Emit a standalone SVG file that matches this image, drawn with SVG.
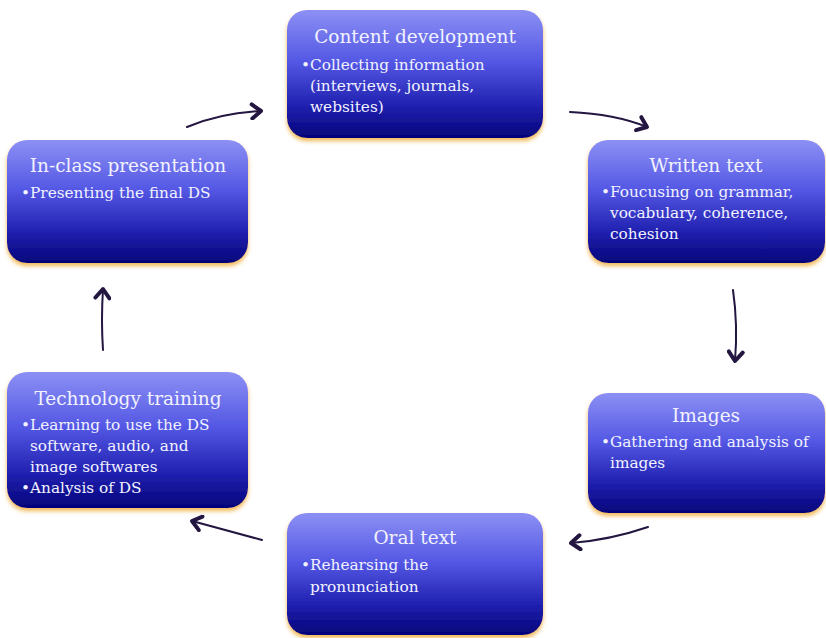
<svg xmlns="http://www.w3.org/2000/svg" width="826" height="638" viewBox="0 0 826 638">
<defs>
<linearGradient id="g" x1="0" y1="0" x2="0" y2="1">
<stop offset="0" stop-color="#8c90f4"/>
<stop offset="0.4" stop-color="#5458e4"/>
<stop offset="0.75" stop-color="#2020b0"/>
<stop offset="1" stop-color="#04047a"/>
</linearGradient>
<filter id="sh" x="-10%" y="-10%" width="120%" height="125%">
<feDropShadow dx="0" dy="3" stdDeviation="2" flood-color="#f0b040" flood-opacity="0.9"/>
</filter>
<marker id="ah" markerWidth="18" markerHeight="18" refX="12" refY="9" orient="auto" markerUnits="userSpaceOnUse">
<polyline points="3,2 12,9 3,16" fill="none" stroke="#231640" stroke-width="4" stroke-linecap="round" stroke-linejoin="round"/>
</marker>
</defs>
<style>
.box{fill:url(#g);filter:url(#sh);}
.t{font-family:"DejaVu Serif","Liberation Serif",serif;fill:#f2f2ff;font-size:18.5px;text-anchor:middle;}
.b{font-family:"DejaVu Serif","Liberation Serif",serif;fill:#f2f2ff;font-size:15.3px;}
.c{fill:none;stroke:#231640;stroke-width:2;marker-end:url(#ah);stroke-linecap:round;}
</style>
<rect width="826" height="638" fill="#ffffff"/>
<g id="content">
<rect class="box" x="287" y="10" width="256" height="128" rx="20"/>
<text class="t" x="415" y="43">Content development</text>
<text class="b" x="301" y="70">•Collecting information</text>
<text class="b" x="310" y="91">(interviews, journals,</text>
<text class="b" x="310" y="112">websites)</text>
</g>
<g id="written">
<rect class="box" x="588" y="140" width="237" height="123" rx="20"/>
<text class="t" x="706" y="172">Written text</text>
<text class="b" x="601" y="197">•Foucusing on grammar,</text>
<text class="b" x="610" y="218">vocabulary, coherence,</text>
<text class="b" x="610" y="239">cohesion</text>
</g>
<g id="images">
<rect class="box" x="588" y="393" width="237" height="120" rx="20"/>
<text class="t" x="706" y="422">Images</text>
<text class="b" x="601" y="447">•Gathering and analysis of</text>
<text class="b" x="610" y="468">images</text>
</g>
<g id="oral">
<rect class="box" x="287" y="513" width="256" height="122" rx="20"/>
<text class="t" x="415" y="544">Oral text</text>
<text class="b" x="301" y="570">•Rehearsing the</text>
<text class="b" x="310" y="592">pronunciation</text>
</g>
<g id="technology">
<rect class="box" x="7" y="372" width="241" height="136" rx="20"/>
<text class="t" x="128" y="405">Technology training</text>
<text class="b" x="21" y="430">•Learning to use the DS</text>
<text class="b" x="30" y="451">software, audio, and</text>
<text class="b" x="30" y="472">image softwares</text>
<text class="b" x="21" y="493">•Analysis of DS</text>
</g>
<g id="inclass">
<rect class="box" x="7" y="140" width="241" height="123" rx="20"/>
<text class="t" x="128" y="172">In-class presentation</text>
<text class="b" x="21" y="198">•Presenting the final DS</text>
</g>
<g id="connectors">
<path class="c" d="M187,127 Q220,113 261,111"/>
<path class="c" d="M570,112 Q615,114 647,127"/>
<path class="c" d="M733,290 Q738,325 735,361"/>
<path class="c" d="M648,527 Q610,540 571,543"/>
<path class="c" d="M262,540 Q225,530 192,521"/>
<path class="c" d="M103,350 Q101,320 103,289"/>
</g>
</svg>
